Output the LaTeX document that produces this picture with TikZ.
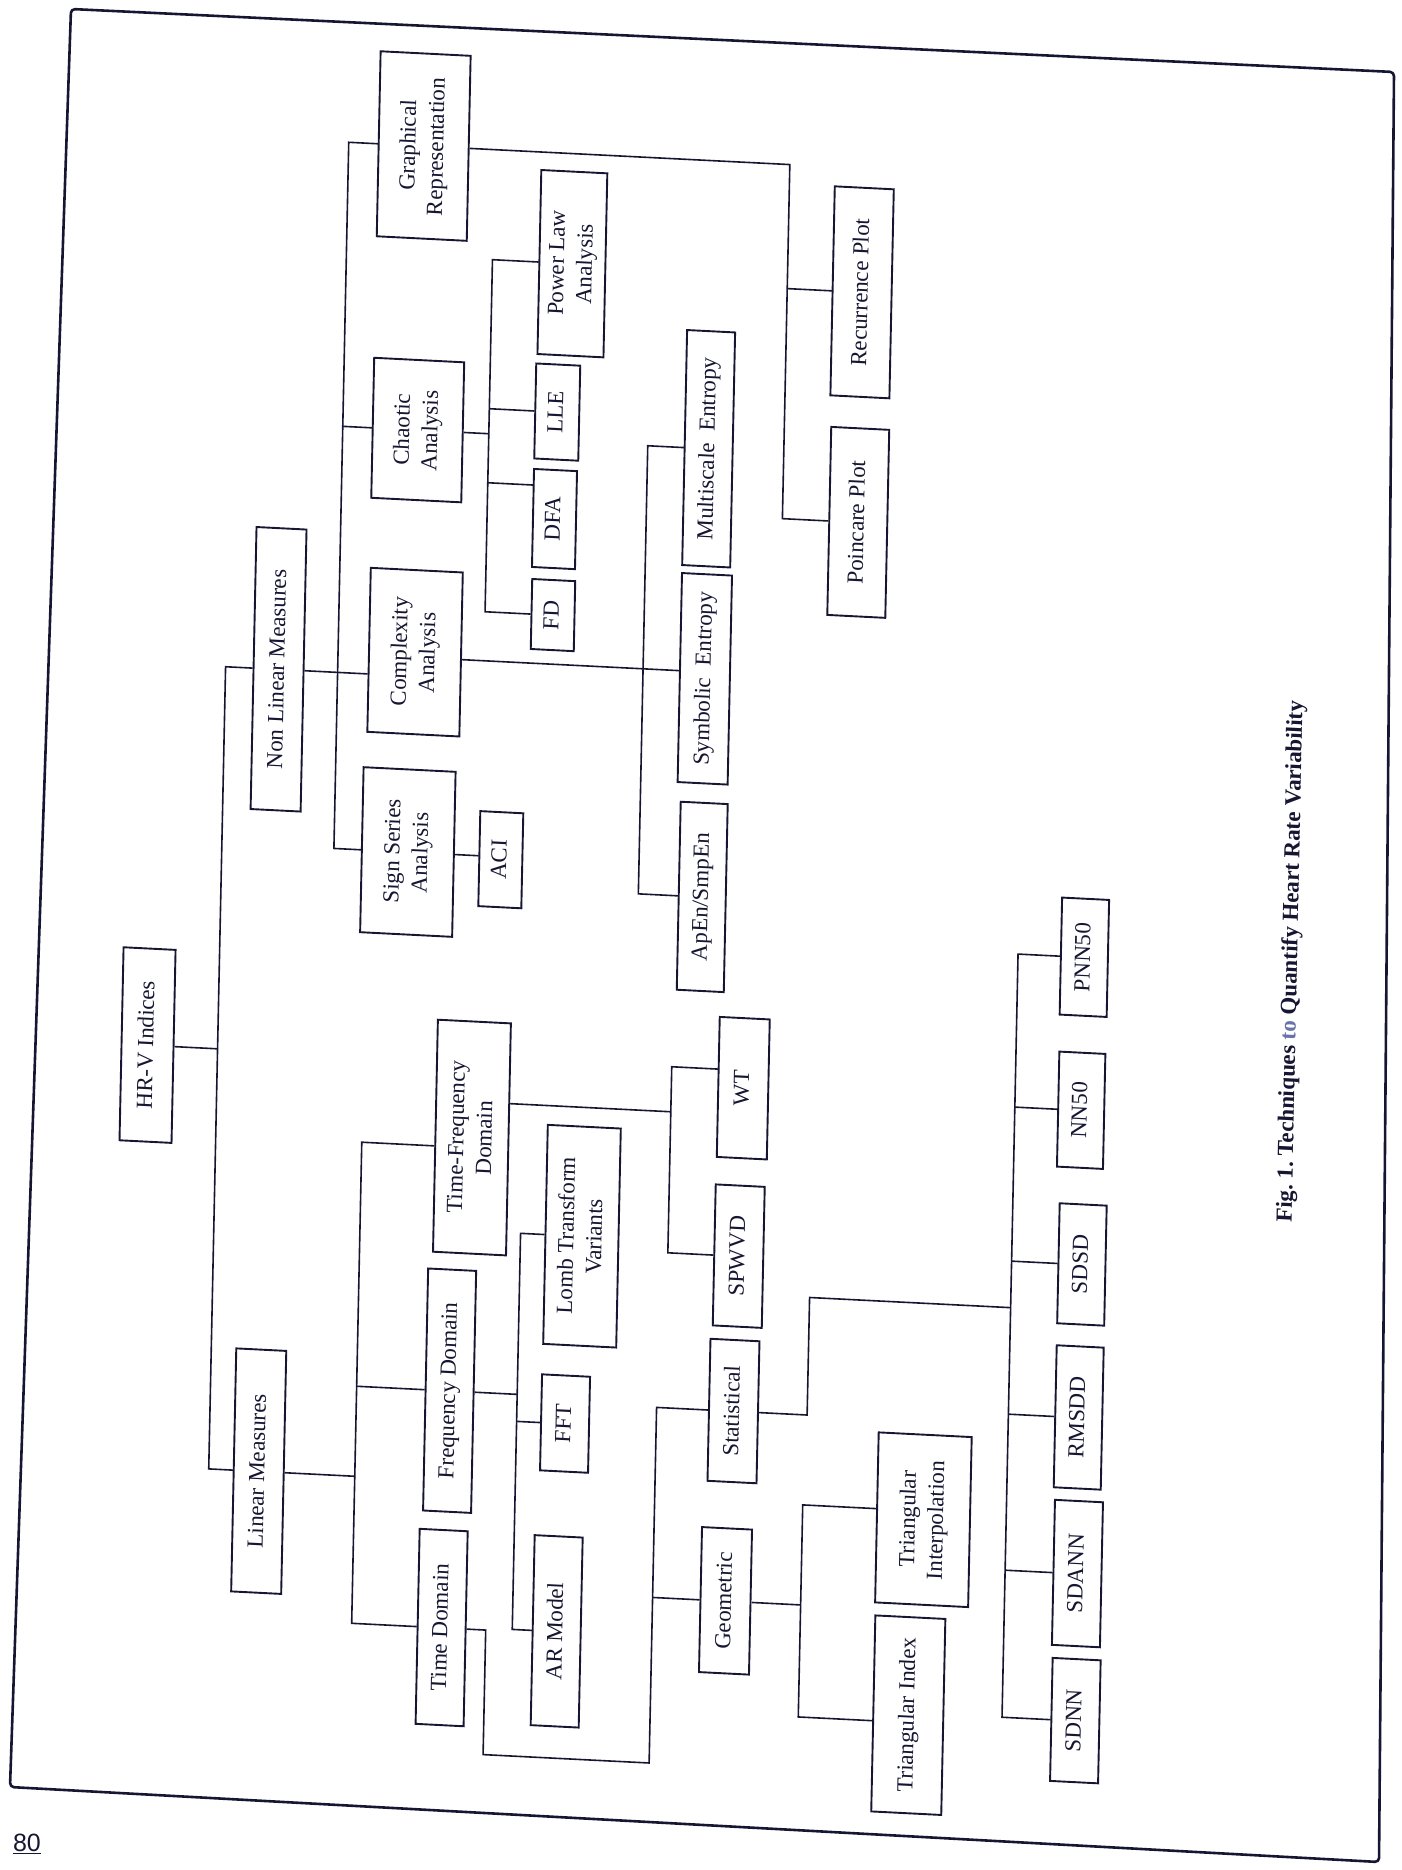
\documentclass[tikz,border=0pt]{standalone}
\usepackage{fontspec}
\setmainfont{Liberation Serif}
\newfontfamily\pagenumfont{Liberation Sans}
\usepackage{graphicx}
\definecolor{inkc}{RGB}{22,22,50}
\definecolor{tocol}{RGB}{105,115,170}
\newcommand{\vtxt}[1]{\rotatebox{90}{\begin{tabular}{@{}c@{}}#1\end{tabular}}}
\tikzset{
  bx/.style={draw=inkc, line width=1.9pt, inner sep=0pt, transform shape, text=inkc,
    font=\fontsize{23}{28}\selectfont},
  ln/.style={draw=inkc, line width=1.6pt},
  frm/.style={draw=inkc, line width=2.6pt, line join=round},
}
\begin{document}
\begin{tikzpicture}[x=1pt,y=-1pt]
\useasboundingbox (0,0) rectangle (1401,1870);
% outer frame (scanned page, slightly skewed)
\draw[frm, rounded corners=4pt] (71,9) -- (1394,72) -- (1379,1862) -- (10,1787) -- cycle;
\node[font=\pagenumfont\fontsize{25}{30}\selectfont, text=inkc] (pagenum) at (27,1844) {\underline{80}};

\begin{scope}[cm={1,-0.0505,0.021,1,(59.25pt,-5.52pt)}]
% ---------- nodes ----------
\node[bx, minimum width=52, minimum height=193] (hrv) at (110,1034) {\vtxt{HR-V Indices}};
\node[bx, minimum width=50, minimum height=282] (nl) at (233,652) {\vtxt{Non Linear Measures}};
\node[bx, minimum width=50, minimum height=243] (lm) at (230,1454) {\vtxt{Linear Measures}};

\node[bx, minimum width=90, minimum height=185] (gr) at (367,122) {\vtxt{Graphical\\Representation}};
\node[bx, minimum width=90, minimum height=140] (ch) at (367,406) {\vtxt{Chaotic\\Analysis}};
\node[bx, minimum width=92, minimum height=164] (cx) at (369,628) {\vtxt{Complexity\\Analysis}};
\node[bx, minimum width=92, minimum height=165] (ss) at (366,828) {\vtxt{Sign Series\\Analysis}};

\node[bx, minimum width=66, minimum height=184] (pla) at (518,232) {\vtxt{Power Law\\Analysis}};
\node[bx, minimum width=44, minimum height=95] (lle) at (506,381) {\vtxt{LLE}};
\node[bx, minimum width=43, minimum height=98] (dfa) at (505.5,488) {\vtxt{DFA}};
\node[bx, minimum width=43, minimum height=70] (fd) at (506,584) {\vtxt{FD}};
\node[bx, minimum width=43, minimum height=95] (aci) at (459,831) {\vtxt{ACI}};

\node[bx, minimum width=48, minimum height=235] (mse) at (658,410) {\vtxt{Multiscale\ \ Entropy}};
\node[bx, minimum width=50, minimum height=209] (se) at (659,640) {\vtxt{Symbolic\ \ Entropy}};
\node[bx, minimum width=47, minimum height=188] (ap) at (661,858) {\vtxt{ApEn/SmpEn}};

\node[bx, minimum width=59, minimum height=209] (rp) at (808,246) {\vtxt{Recurrence Plot}};
\node[bx, minimum width=58, minimum height=188] (pp) at (809,476) {\vtxt{Poincare Plot}};

\node[bx, minimum width=73, minimum height=232] (tf) at (436,1110) {\vtxt{Time-Frequency\\Domain}};
\node[bx, minimum width=48, minimum height=242] (fdm) at (419,1364) {\vtxt{Frequency Domain}};
\node[bx, minimum width=48, minimum height=195] (tdm) at (416,1601) {\vtxt{Time Domain}};

\node[bx, minimum width=73, minimum height=219] (lomb) at (548,1203) {\vtxt{Lomb Transform\\Variants}};
\node[bx, minimum width=48, minimum height=96] (fft) at (535,1391) {\vtxt{FFT}};
\node[bx, minimum width=48, minimum height=190] (ar) at (531,1599) {\vtxt{AR Model}};

\node[bx, minimum width=50, minimum height=140] (wt) at (706,1047) {\vtxt{WT}};
\node[bx, minimum width=49, minimum height=141] (spwvd) at (705,1215) {\vtxt{SPWVD}};
\node[bx, minimum width=49, minimum height=142] (stat) at (703,1370) {\vtxt{Statistical}};
\node[bx, minimum width=50, minimum height=145] (geo) at (699,1560) {\vtxt{Geometric}};

\node[bx, minimum width=93, minimum height=170] (ti) at (895,1469) {\vtxt{Triangular\\Interpolation}};
\node[bx, minimum width=70, minimum height=196] (tidx) at (884,1665) {\vtxt{Triangular Index}};

\node[bx, minimum width=47, minimum height=117] (pnn) at (1044,899) {\vtxt{PNN50}};
\node[bx, minimum width=46, minimum height=115] (nn50) at (1044,1052) {\vtxt{NN50}};
\node[bx, minimum width=47, minimum height=120] (sdsd) at (1048,1206) {\vtxt{SDSD}};
\node[bx, minimum width=47, minimum height=142] (rmssd) at (1048,1359) {\vtxt{RMSDD}};
\node[bx, minimum width=48, minimum height=145] (sdann) at (1050,1515) {\vtxt{SDANN}};
\node[bx, minimum width=48, minimum height=123] (sdnn) at (1051,1662) {\vtxt{SDNN}};

\node[transform shape, text=inkc, font=\bfseries\fontsize{23}{28}\selectfont] (cap) at (1251,893)
  {\rotatebox{90}{Fig.\ 1.\ Techniques {\color{tocol}to} Quantify Heart Rate Variability}};

% ---------- junction coordinates ----------
\coordinate (hv) at (180,1034);
\coordinate (nv) at (292,652);
\coordinate (cv) at (438,413);
\coordinate (ev) at (597,634);
\coordinate (rv) at (733,300);
\coordinate (lv) at (326,1360);
\coordinate (fv) at (486.5,1400);
\coordinate (wv) at (634,1100);
\coordinate (tb1) at (460,1725.5);
\coordinate (tb2) at (626,1725.5);
\coordinate (sb) at (776.5,1252.5);
\coordinate (nv2) at (977.5,1200);
\coordinate (gv) at (774,1560);

% ---------- connectors ----------
% root
\draw[ln] (hrv.east) -- (hv);
\draw[ln] (nl.west) -| (hv) |- (lm.west);
% non linear
\draw[ln] (gr.west) -| (nv) |- (ss.west);
\draw[ln] (nl.east) -- (nl.east -| cx.west);
\draw[ln] (ch.west) -- (ch.west -| nv);
% chaotic
\draw[ln] (pla.west) -| (cv) |- (fd.west);
\draw[ln] (ch.east) -- (ch.east -| cv);
\draw[ln] (lle.west) -- (lle.west -| cv);
\draw[ln] ([yshift=33pt]dfa.west) -- ([yshift=33pt]dfa.west -| cv);
% complexity
\draw[ln] (mse.west) -| (ev) |- (ap.west);
\draw[ln] ([yshift=-5pt]cx.east) -- ([yshift=-5pt]cx.east -| se.west);
% graphical
\draw[ln] (gr.east) -| (rv) |- (pp.west);
\draw[ln] (rp.west) -- (rp.west -| rv);
% sign series
\draw[ln] (ss.east) -- (ss.east -| aci.west);
% linear
\draw[ln] (lm.east) -- (lm.east -| lv);
\draw[ln] ([yshift=-10pt]tf.west) -| (lv) |- (tdm.west);
\draw[ln] (fdm.west) -- (fdm.west -| lv);
% time-frequency
\draw[ln] ([yshift=18pt]wt.west) -| (wv) |- (spwvd.west);
\draw[ln] ([yshift=36pt]tf.east) -- ([yshift=36pt]tf.east -| wv);
% frequency
\draw[ln] (fdm.east) -- (fdm.east -| fv);
\draw[ln] (lomb.west) -| (fv) |- (ar.west);
\draw[ln] (fft.west) -- (fft.west -| fv);
% time domain
\draw[ln] (tdm.east) -| (tb1) -- (tb2) |- (stat.west);
\draw[ln] (geo.west) -- (geo.west -| tb2);
% statistical
\draw[ln] (stat.east) -| (sb) -- (sb -| nv2);
\draw[ln] (pnn.west) -| (nv2) |- (sdnn.west);
\draw[ln] (nn50.west) -- (nn50.west -| nv2);
\draw[ln] (sdsd.west) -- (sdsd.west -| nv2);
\draw[ln] (rmssd.west) -- (rmssd.west -| nv2);
\draw[ln] (sdann.west) -- (sdann.west -| nv2);
% geometric
\draw[ln] (geo.east) -- (geo.east -| gv);
\draw[ln] ([yshift=9pt]ti.west) -| (gv) |- ([yshift=-7pt]tidx.west);
\end{scope}
\end{tikzpicture}
\end{document}
